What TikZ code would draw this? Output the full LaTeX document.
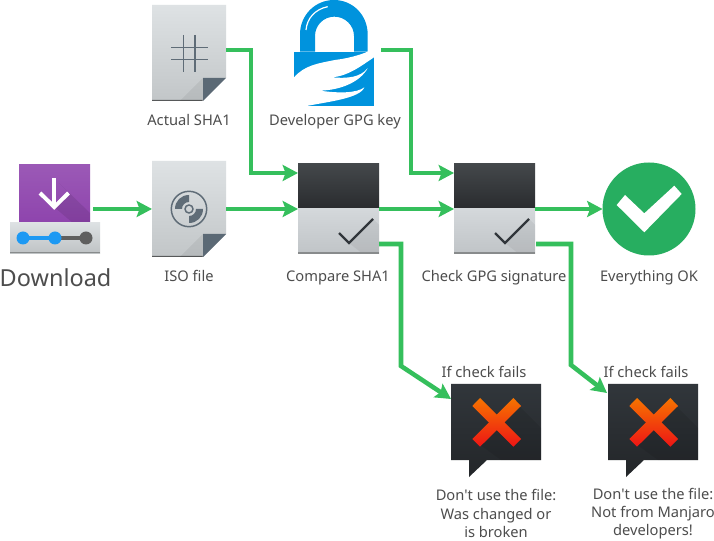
\documentclass[tikz,border=0pt]{standalone}
\usepackage{fontspec}
\setmainfont{Noto Sans}
\newfontfamily\plainfont{Noto Sans}
\usetikzlibrary{arrows.meta,calc,shadings}
\definecolor{flowgreen}{HTML}{35BF5C}
\definecolor{txt}{HTML}{4D4D4D}
\definecolor{pagetop}{HTML}{DEE2E4}
\definecolor{pagebot}{HTML}{C2C6C8}
\definecolor{foldc}{HTML}{5B6975}
\definecolor{slate}{HTML}{5F6C77}
\definecolor{lockblue}{HTML}{0093DD}
\definecolor{okgreen}{HTML}{27AE60}
\tikzset{
  x=0.75pt,y=-0.75pt,
  flow/.style={draw=flowgreen,line width=3.4pt,miter limit=10,-{Stealth[length=11.5pt,width=12pt,inset=2.2pt]}},
  lbl/.style={text=txt,font=\fontsize{11}{13.6}\selectfont,align=center,inner sep=0pt,anchor=base},
  hit/.style={inner sep=0pt,outer sep=0pt,draw=none,minimum width=#1},
}
\newcommand{\pageicon}[2]{%
  \begin{scope}[shift={(#1,#2)}]
    \shade[top color=pagetop,bottom color=pagebot] (0,0) -- (74,0) -- (74,73) -- (51,96) -- (0,96) -- cycle;
    \fill[black!55!pagebot] (0,95) -- (51,95) -- (50,96) -- (0,96) -- cycle;
    \fill[black,opacity=.06] (51,73) -- (51,96) -- (28,96) -- cycle;
    \fill[foldc] (51,73) -- (74,73) -- (51,96) -- cycle;
  \end{scope}}
\newcommand{\checkbox}[1]{%
  \begin{scope}[shift={(#1,164)}]
    \shade[top color={rgb,255:red,68;green,72;blue,75}, bottom color={rgb,255:red,41;green,43;blue,46}] (0,0) rectangle (81,45);
    \shade[top color={rgb,255:red,212;green,216;blue,219}, bottom color={rgb,255:red,192;green,196;blue,199}] (0,45) rectangle (81,90);
    \begin{scope}
      \clip (0,45) rectangle (81,90);
      \fill[black,opacity=.05] (75,55) -- (81,61) -- (81,90) -- (65,90) -- (51,79) -- cycle;
    \end{scope}
    \fill[black!30!pagebot] (0,88) rectangle (81,90);
    \draw[draw={rgb,255:red,49;green,54;blue,59},line width=1.6pt] (41,69) -- (51,79) -- (75,55);
  \end{scope}}
\newcommand{\bubble}[1]{%
  \begin{scope}[shift={(#1,384)}]
    \shade[top color={rgb,255:red,49;green,54;blue,59}, bottom color={rgb,255:red,35;green,38;blue,41}]
      (0,0) -- (90,0) -- (90,76) -- (36,76) -- (18,93) -- (18,76) -- (0,76) -- cycle;
    \fill[black,opacity=.08] (62,16) -- (90,44) -- (90,76) -- (50,76) -- (28,60) -- cycle;
    \shade[top color={rgb,255:red,246;green,116;blue,0}, bottom color={rgb,255:red,237;green,21;blue,21}]
      (21.3,22) -- (29,14) -- (45.7,30.6) -- (62.4,14) -- (70,22) -- (53.5,38.4) -- (70,55) -- (62.4,62.7) -- (45.7,46.2) -- (29,62.7) -- (21.3,55) -- (37.9,38.4) -- cycle;
  \end{scope}}
\begin{document}
\begin{tikzpicture}
\useasboundingbox (0,0) rectangle (714,541);
\fill[white] (0,0) rectangle (714,541);

% --- Download icon
\shade[top color={rgb,255:red,155;green,89;blue,182}, bottom color={rgb,255:red,142;green,68;blue,173}] (19,165) rectangle (90,223);
\begin{scope}
  \clip (19,165) rectangle (90,223);
  \fill[black,opacity=.09] (59,183) -- (90,213) -- (90,223) -- (73,223) -- (54,207) -- (69,193) -- cycle;
\end{scope}
\draw[white,line width=3pt] (54.3,178) -- (54.3,205);
\draw[white,line width=3pt] (40,193) -- (54.3,207) -- (68.5,193);
\shade[top color={rgb,255:red,222;green,226;blue,228}, bottom color={rgb,255:red,190;green,195;blue,197}] (10,222.5) rectangle (100,253.5);
\fill[black!30!pagebot] (10,252) rectangle (100,253.5);
\draw[draw={rgb,255:red,95;green,95;blue,95},line width=2.4pt] (55,238) -- (86,238);
\draw[draw={rgb,255:red,29;green,153;blue,243},line width=2.4pt] (23,238) -- (55,238);
\fill[fill={rgb,255:red,29;green,153;blue,243}] (23,238) circle[radius=6.5];
\fill[fill={rgb,255:red,29;green,153;blue,243}] (55,238) circle[radius=6.5];
\fill[fill={rgb,255:red,95;green,95;blue,95}] (86,238) circle[radius=6.5];
\node[hit=53.25pt,minimum height=43.5pt] (dl) at (54.5,194) {};
\node[text=txt,font=\fontsize{17.6}{22}\selectfont,inner sep=0pt,anchor=base] (dltext) at (55.5,287) {Download};

% --- ISO file
\pageicon{152}{161}
\draw[slate,line width=1.1pt] (189,209) circle[radius=17.7];
\fill[slate] (175,209) .. controls (175,201) and (181,195) .. (189,195) -- (189,202) .. controls (185,202) and (182,205) .. (182,209) -- cycle;
\fill[slate] (203,209) .. controls (203,217) and (197,223) .. (189,223) -- (189,216) .. controls (193,216) and (196,213) .. (196,209) -- cycle;
\draw[slate,line width=1.1pt] (189,209) circle[radius=4];
\node[hit=55.5pt,minimum height=72pt] (iso) at (189,209) {};
\node[lbl] (isotext) at (189,281.5) {ISO file};

% --- Actual SHA1
\pageicon{152}{5}
\draw[slate,line width=1.2pt] (183.5,35) -- (183.5,72) (195,35) -- (195,72) (171,47.5) -- (208,47.5) (171,59.5) -- (208,59.5);
\node[hit=55.5pt,minimum height=72pt] (sha) at (189,53) {};
\node[lbl] (shatext) at (189,126) {Actual SHA1};

% --- Developer GPG key (padlock)
\begin{scope}[shift={(285,0)},x=0.25pt,y=-0.25pt]
  \fill[lockblue] (45,155) -- (45,103) .. controls (45,46) and (90,0) .. (147,0) .. controls (204,0) and (248,46) .. (248,103) -- (248,155) -- (207,155) -- (207,108) .. controls (207,76) and (180,50) .. (148,50) .. controls (116,50) and (90,76) .. (90,108) -- (90,155) -- cycle;
  \draw[white,line width=.9pt] (63,90) .. controls (66,55) and (90,28) .. (128,20);
  \fill[lockblue] (27,155) rectangle (267,318);
  \fill[white] (27,232) .. controls (60,195) and (100,190) .. (150,180)
     .. controls (190,175) and (225,165) .. (248,155) -- (267,155) -- (267,172)
     .. controls (225,200) and (190,228) .. (140,232)
     .. controls (190,236) and (225,232) .. (248,205)
     .. controls (225,245) and (170,270) .. (105,272)
     .. controls (160,280) and (215,280) .. (238,262)
     .. controls (225,295) and (130,305) .. (65,318)
     -- (27,318) -- cycle;
\end{scope}
\node[hit=60pt,minimum height=79.5pt] (gpg) at (334,53) {};
\node[lbl] (gpgtext) at (335,126) {Developer GPG key};

% --- Check boxes
\checkbox{298}
\node[hit=60.75pt,minimum height=67.5pt] (cmp) at (338.5,209) {};
\node[lbl] (cmptext) at (338,281.5) {Compare SHA1};
\checkbox{454}
\node[hit=60pt,minimum height=67.5pt] (chk) at (494,209) {};
\node[lbl] (chktext) at (494,281.5) {Check GPG signature};

% --- Everything OK
\fill[okgreen] (649,209) circle[radius=46.5];
\fill[white] (616.7,205) -- (625,195) -- (644.3,213.3) -- (674.3,185.7) -- (681.7,194) -- (644.3,232.3) -- cycle;
\node[circle,hit=69.75pt] (ok) at (649,209) {};
\node[lbl] (oktext) at (649,281.5) {Everything OK};

% --- Fail bubbles
\bubble{451}
\node[hit=67.5pt,minimum height=57pt] (failA) at (496,422) {};
\node[lbl] (failAhead) at (484,378) {If check fails};
\node[lbl,anchor=center] (failAtext) at (496,513.5) {Don{\plainfont '}t use the file:\\Was changed or\\is broken};
\bubble{608}
\node[hit=67.5pt,minimum height=57pt] (failB) at (653,422) {};
\node[lbl] (failBhead) at (646,377.7) {If check fails};
\node[lbl,anchor=center] (failBtext) at (653,513.5) {Don{\plainfont '}t use the file:\\Not from Manjaro\\developers!};

% --- Connectors
\draw[flow] ($(dl.east)+(3,15)$) -- (iso.west);
\draw[flow] (iso.east) -- (cmp.west);
\draw[flow] (cmp.east) -- (chk.west);
\draw[flow] ($(chk.east)+(1,0)$) -- (ok.west);
\draw[flow] ($(sha.east)+(0,-3)$) -| (251,173) -- ($(cmp.west)+(0,-36)$);
\draw[flow] ($(gpg.east)+(7,-3)$) -| (411,173) -- ($(chk.west)+(0,-36)$);
\draw[flow] ($(cmp.east)+(0,35)$) -- (401,244) -- (401,366) -- ($(failA.west)+(0,-23)$);
\draw[flow] ($(chk.east)+(2,35)$) -- (571,244) -- (571,365) -- ($(failB.west)+(-1,-29)$);
\end{tikzpicture}
\end{document}
